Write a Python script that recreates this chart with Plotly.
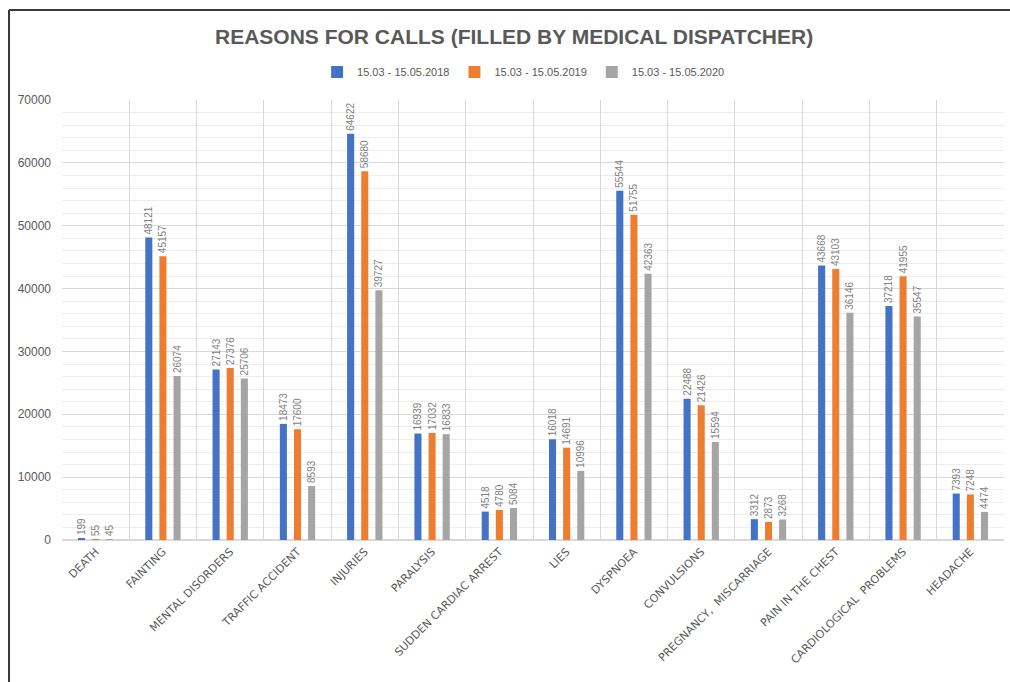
import plotly.graph_objects as go

categories = ["DEATH", "FAINTING", "MENTAL DISORDERS", "TRAFFIC ACCIDENT", "INJURIES",
              "PARALYSIS", "SUDDEN CARDIAC ARREST", "LIES", "DYSPNOEA", "CONVULSIONS",
              "PREGNANCY,  MISCARRIAGE", "PAIN IN THE CHEST", "CARDIOLOGICAL  PROBLEMS", "HEADACHE"]
series_names = ["15.03 - 15.05.2018", "15.03 - 15.05.2019", "15.03 - 15.05.2020"]
values_2018 = [199, 48121, 27143, 18473, 64622, 16939, 4518, 16018, 55544, 22488, 3312, 43668, 37218, 7393]
values_2019 = [55, 45157, 27376, 17600, 58680, 17032, 4780, 14691, 51755, 21426, 2873, 43103, 41955, 7248]
values_2020 = [45, 26074, 25706, 8593, 39727, 16833, 5084, 10996, 42363, 15594, 3268, 36146, 35547, 4474]
colors = ["#4472C4", "#ED7D31", "#A5A5A5"]

W, H = 1010, 682
ML, MR, MT, MB = 62, 6, 100, 142
PW, PH = W - ML - MR, H - MT - MB

def px_x(px):
    return (px - ML) / PW

def px_y(py):
    return (H - MB - py) / PH

fig = go.Figure()
for name, vals, col in zip(series_names, [values_2018, values_2019, values_2020], colors):
    fig.add_trace(go.Bar(
        x=categories, y=vals, name=name, marker_color=col, marker_line_width=0,
        text=[str(v) for v in vals], textposition="outside", textangle=-90,
        constraintext="none", cliponaxis=False,
        textfont=dict(family="Liberation Sans, Arial, sans-serif", size=10, color="#7F7F7F"),
    ))

fig.update_layout(
    width=W, height=H,
    margin=dict(l=ML, r=MR, t=MT, b=MB),
    paper_bgcolor="white", plot_bgcolor="white",
    barmode="group", bargap=0.37, bargroupgap=0.5,
    title=dict(text="<b>REASONS FOR CALLS (FILLED BY MEDICAL DISPATCHER)</b>",
               x=0.509, xanchor="center", y=1 - 37 / H, yanchor="middle", yref="container",
               font=dict(family="Liberation Sans, Arial, sans-serif", size=21, color="#595959")),
    legend=dict(orientation="h", x=0.49, xanchor="center", y=px_y(72), yanchor="middle",
                font=dict(family="Liberation Sans, Arial, sans-serif", size=11, color="#595959"),
                itemwidth=30, tracegroupgap=0),
    xaxis=dict(type="category", tickson="boundaries", showgrid=True, gridcolor="#D9D9D9", gridwidth=1,
               tickangle=-45, ticks="", showline=True, linecolor="#D9D9D9",
               tickfont=dict(family="DejaVu Sans, sans-serif", size=11, color="#595959")),
    yaxis=dict(range=[0, 70000], dtick=10000, showgrid=True, gridcolor="#D9D9D9", gridwidth=1,
               minor=dict(dtick=2000, showgrid=True, gridcolor="#EDEDED", gridwidth=1),
               zeroline=True, zerolinecolor="#D9D9D9", ticks="", tickformat="d",
               ticklabelstandoff=10,
               tickfont=dict(family="Liberation Sans, Arial, sans-serif", size=12, color="#595959")),
    showlegend=True,
)

fig.add_shape(type="line", xref="paper", yref="paper", x0=px_x(9), x1=px_x(W), y0=px_y(10), y1=px_y(10),
              line=dict(color="#3A3A3A", width=2), layer="above")
fig.add_shape(type="line", xref="paper", yref="paper", x0=px_x(9), x1=px_x(9), y0=px_y(10), y1=px_y(H),
              line=dict(color="#3A3A3A", width=2), layer="above")

fig.write_html("out.html")
